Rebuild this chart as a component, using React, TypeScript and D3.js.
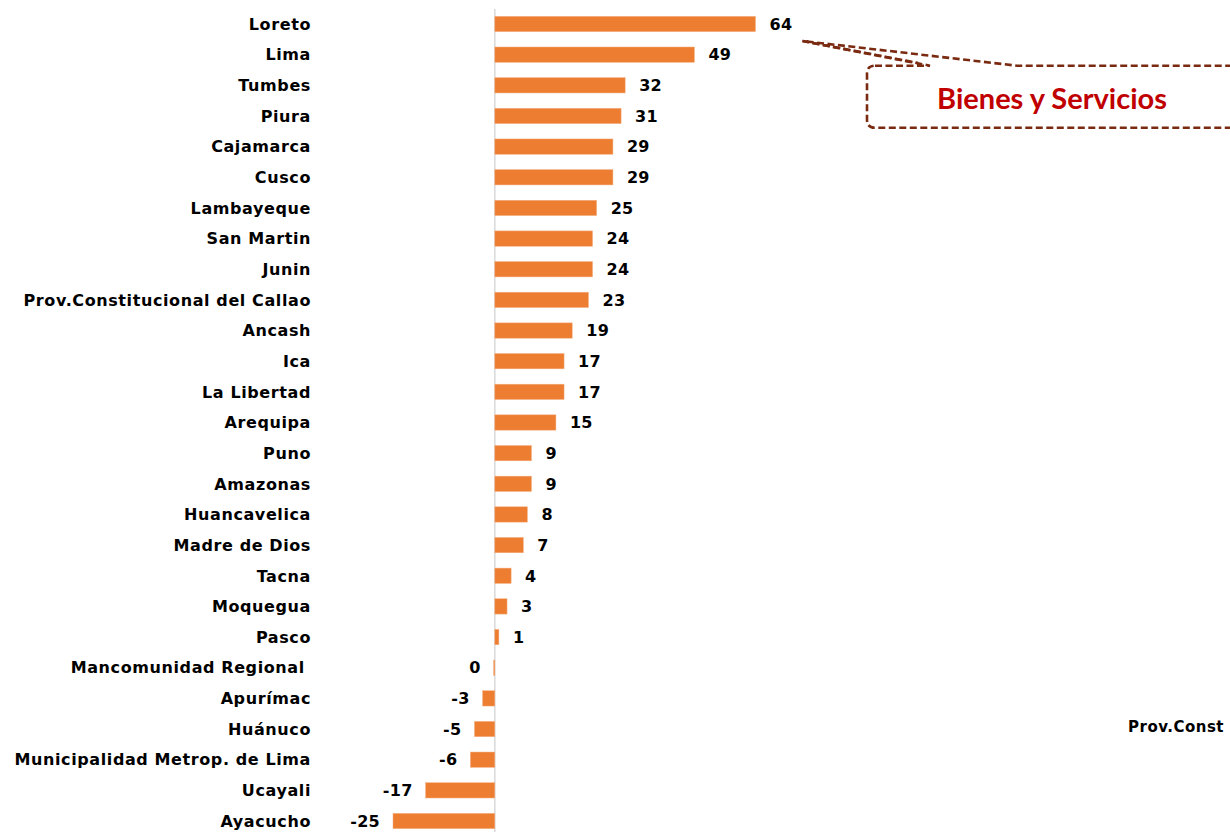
import React from 'react';
import * as d3 from 'd3';

const regions = [
	'Loreto', 'Lima', 'Tumbes', 'Piura', 'Cajamarca', 'Cusco', 'Lambayeque', 'San Martin', 'Junin',
	'Prov.Constitucional del Callao', 'Ancash', 'Ica', 'La Libertad', 'Arequipa', 'Puno', 'Amazonas',
	'Huancavelica', 'Madre de Dios', 'Tacna', 'Moquegua', 'Pasco', 'Mancomunidad Regional ', 'Apurímac',
	'Huánuco', 'Municipalidad Metrop. de Lima', 'Ucayali', 'Ayacucho',
];

const values = [64, 49, 32, 31, 29, 29, 25, 24, 24, 23, 19, 17, 17, 15, 9, 9, 8, 7, 4, 3, 1, -0.3, -3, -5, -6, -17, -25];

const calloutText = 'Bienes y Servicios';
// only this part of the stray label is visible at the right edge
const strayText = 'Prov.Const';

const width = 1230;
const height = 832;
const font = '"DejaVu Sans", Verdana, sans-serif';
const calloutColor = '#7A2A10';

export default function App() {
	// Scales
	const x = d3.scaleLinear().domain([-25, 64]).range([393, 755.5]);
	const y = d3.scaleBand<string>()
		.domain(regions)
		.range([8.67, 836.33])
		.paddingInner(0.5)
		.paddingOuter(0.25);

	const bw = y.bandwidth();
	const x0 = x(0);

	// callout anchored off the top bar's label
	const tipX = x(values[0]) + 47;
	const tipY = (y(regions[0]) as number) + bw / 2 + 17;
	const boxTop = 65.7;
	const boxBottom = 127.7;
	const boxLeft = 867;
	const boxRight = 1250;
	const r = 8;
	const calloutPath = [
		`M ${boxLeft + r} ${boxTop}`,
		`L 930 ${boxTop}`,
		`L ${tipX} ${tipY}`,
		`L 1017 ${boxTop}`,
		`L ${boxRight} ${boxTop}`,
		`L ${boxRight} ${boxBottom}`,
		`L ${boxLeft + r} ${boxBottom}`,
		`Q ${boxLeft} ${boxBottom} ${boxLeft} ${boxBottom - r}`,
		`L ${boxLeft} ${boxTop + r}`,
		`Q ${boxLeft} ${boxTop} ${boxLeft + r} ${boxTop}`,
	].join(' ');

	return (
		<svg
			width={width}
			height={height}
			style={{ position: 'absolute', left: 0, top: 0, background: '#fff' }}
		>
			{/* Axis line at zero */}
			<line x1={x0} x2={x0} y1={9} y2={height} stroke="#d9d9d9" strokeWidth={1.5} />

			{/* Bars */}
			{regions.map((name, i) => {
				const v = values[i];
				const top = y(name) as number;
				return (
					<rect
						key={name}
						x={Math.min(x(v), x0)}
						y={top}
						width={Math.abs(x(v) - x0)}
						height={bw}
						fill="#ED7D31"
						stroke="#F4B183"
						strokeWidth={0.5}
					/>
				);
			})}

			{/* Category labels */}
			{regions.map((name) => (
				<text
					key={'l' + name}
					x={311}
					y={(y(name) as number) + bw / 2}
					dy="0.36em"
					textAnchor="end"
					fontFamily={font}
					fontWeight="bold"
					fontSize={16}
					letterSpacing={0.6}
					fill="#000"
					style={{ whiteSpace: 'pre' }}
				>
					{name}
				</text>
			))}

			{/* Value labels */}
			{regions.map((name, i) => {
				const v = values[i];
				const pos = v > 0;
				return (
					<text
						key={'v' + name}
						x={pos ? x(v) + 14 : x(v) - 13}
						y={(y(name) as number) + bw / 2}
						dy="0.36em"
						textAnchor={pos ? 'start' : 'end'}
						fontFamily={font}
						fontWeight="bold"
						fontSize={16}
						letterSpacing={0.3}
						fill="#000"
					>
						{`${Math.round(v)}`}
					</text>
				);
			})}

			{/* Callout */}
			<path
				d={calloutPath}
				fill="none"
				stroke={calloutColor}
				strokeWidth={2.6}
				strokeDasharray="7 3.5"
			/>
			<line
				x1={tipX}
				y1={tipY}
				x2={918}
				y2={63}
				stroke={calloutColor}
				strokeWidth={2.6}
				strokeDasharray="7 3.5"
			/>
			<text
				x={1052}
				y={109}
				textAnchor="middle"
				fontFamily="Lato, sans-serif"
				fontWeight="bold"
				fontSize={29}
				fill="#C00000"
			>
				{calloutText}
			</text>

			{/* Stray label at the right edge */}
			<text
				x={1128}
				y={732}
				fontFamily={font}
				fontWeight="bold"
				fontSize={15}
				letterSpacing={0.5}
				fill="#000"
			>
				{strayText}
			</text>
		</svg>
	);
}
